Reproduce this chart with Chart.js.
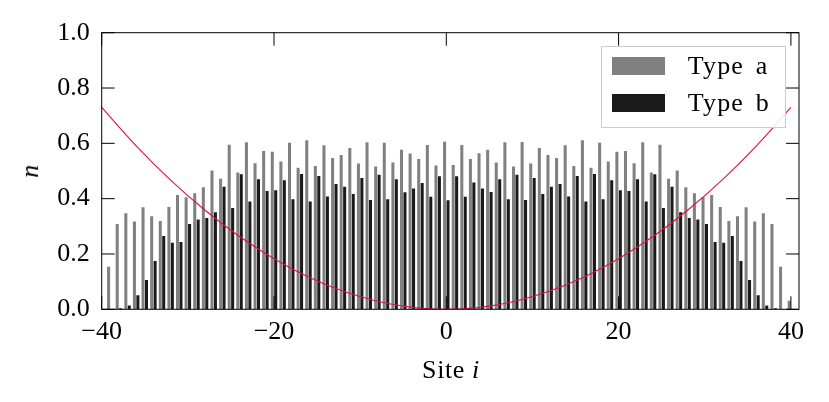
<!DOCTYPE html>
<html>
<head>
<meta charset="utf-8">
<script src="https://cdn.jsdelivr.net/npm/chart.js@4/dist/chart.umd.min.js"></script>
<style>
  html, body { margin: 0; padding: 0; background: #fff; }
  #wrap { position: relative; width: 829px; height: 402px; font-family: "Liberation Serif", serif; }
  #c { position: absolute; left: 0; top: 0; }
  .ttl { position: absolute; font-size: 26px; line-height: 30px; color: #000; white-space: nowrap; letter-spacing: 0.6px; }
  #legend { position: absolute; left: 600.7px; top: 46px; width: 185px; height: 82px; box-sizing: border-box;
            border: 1px solid #cccccc; background: rgba(255,255,255,0.88); }
  .lg-sw { position: absolute; left: 10px; width: 53px; height: 18px; }
  .lg-tx { position: absolute; left: 86px; font-size: 26px; line-height: 18px; color: #000; white-space: nowrap;
           letter-spacing: 1.2px; word-spacing: 4px; }
</style>
</head>
<body>
<div id="wrap">
  <canvas id="c" width="829" height="402"></canvas>
  <div class="ttl" id="xtitle" style="left:451px; top:355px; transform:translateX(-50%);">Site <i>i</i></div>
  <div class="ttl" id="ytitle" style="left:30px; top:171px; transform:translate(-50%,-50%) rotate(-90deg);"><i>n</i></div>
  <div id="legend"></div>
</div>
<script>
// ---- data ----
const sites = [-40,-39,-38,-37,-36,-35,-34,-33,-32,-31,-30,-29,-28,-27,-26,-25,-24,-23,-22,-21,
  -20,-19,-18,-17,-16,-15,-14,-13,-12,-11,-10,-9,-8,-7,-6,-5,-4,-3,-2,-1,
  0,1,2,3,4,5,6,7,8,9,10,11,12,13,14,15,16,17,18,19,
  20,21,22,23,24,25,26,27,28,29,30,31,32,33,34,35,36,37,38,39,40];

const typeA = [0.031,0.154,0.308,0.347,0.317,0.369,0.336,0.319,0.370,0.413,0.405,0.420,0.441,0.502,0.472,0.595,0.495,0.604,0.528,0.572,
  0.570,0.534,0.602,0.512,0.611,0.518,0.593,0.547,0.558,0.583,0.527,0.604,0.516,0.602,0.531,0.577,0.563,0.543,0.594,0.520,
  0.606,0.522,0.594,0.543,0.564,0.577,0.531,0.604,0.516,0.605,0.527,0.583,0.558,0.547,0.593,0.518,0.611,0.512,0.602,0.534,
  0.570,0.572,0.528,0.604,0.495,0.595,0.472,0.502,0.441,0.420,0.405,0.413,0.370,0.319,0.336,0.369,0.317,0.347,0.308,0.154,0.031];

const typeB = [0.000,0.001,0.004,0.014,0.051,0.106,0.175,0.265,0.241,0.243,0.308,0.325,0.330,0.351,0.443,0.366,0.488,0.390,0.470,0.428,
  0.430,0.467,0.398,0.489,0.390,0.482,0.408,0.453,0.443,0.417,0.475,0.395,0.486,0.398,0.470,0.423,0.437,0.457,0.407,0.481,
  0.394,0.481,0.407,0.458,0.437,0.424,0.470,0.398,0.486,0.395,0.475,0.417,0.443,0.453,0.408,0.482,0.390,0.489,0.398,0.467,
  0.430,0.428,0.470,0.390,0.488,0.366,0.443,0.351,0.330,0.325,0.308,0.243,0.241,0.265,0.175,0.106,0.051,0.014,0.004,0.001,0.000];

const curveX = [-40,-36,-32,-28,-24,-20,-16,-12,-8,-4,0,4,8,12,16,20,24,28,32,36,40];
const curveY = [0.730,0.591,0.467,0.358,0.263,0.183,0.117,0.066,0.029,0.007,0.000,0.007,0.029,0.066,0.117,0.183,0.263,0.358,0.467,0.591,0.730];

const seriesNames = ['Type a', 'Type b'];
const xTicks = [-40, -20, 0, 20, 40];
const xTickLabels = ['\u221240', '\u221220', '0', '20', '40'];
const yTicks = [0, 0.2, 0.4, 0.6, 0.8, 1.0];
const yTickLabels = ['0.0', '0.2', '0.4', '0.6', '0.8', '1.0'];

// ---- chart ----
const colA = '#808080', colB = '#1a1a1a', colCurve = '#dc143c';
Chart.defaults.font.family = '"Liberation Serif", serif';
Chart.defaults.font.size = 26;
Chart.defaults.color = '#000';

const TICK_LEN = 13;
const frameTicks = {
  id: 'frameTicks',
  afterDatasetsDraw(chart) {
    const { ctx, chartArea: a, scales: { x, y } } = chart;
    ctx.save();
    ctx.strokeStyle = '#000';
    ctx.lineWidth = 1;
    ctx.beginPath();
    for (const t of x.ticks) {
      const px = x.getPixelForValue(t.value);
      ctx.moveTo(px, a.bottom); ctx.lineTo(px, a.bottom - TICK_LEN);
      ctx.moveTo(px, a.top); ctx.lineTo(px, a.top + TICK_LEN);
    }
    for (const t of y.ticks) {
      const py = y.getPixelForValue(t.value);
      ctx.moveTo(a.left, py); ctx.lineTo(a.left + TICK_LEN, py);
      ctx.moveTo(a.right, py); ctx.lineTo(a.right - TICK_LEN, py);
    }
    ctx.stroke();
    ctx.strokeRect(a.left, a.top, a.right - a.left, a.bottom - a.top);
    ctx.restore();
  }
};

const chart = new Chart(document.getElementById('c'), {
  type: 'bar',
  data: {
    datasets: [
      {
        type: 'line',
        label: 'curve',
        data: curveX.map((v, i) => ({ x: v, y: curveY[i] })),
        borderColor: colCurve,
        borderWidth: 1.1,
        pointRadius: 0,
        cubicInterpolationMode: 'monotone',
        fill: false,
        order: 0
      },
      {
        label: seriesNames[0],
        data: sites.map((s, i) => ({ x: s, y: typeA[i] })),
        backgroundColor: colA,
        borderWidth: 0,
        categoryPercentage: 0.8,
        barPercentage: 0.88,
        order: 1
      },
      {
        label: seriesNames[1],
        data: sites.map((s, i) => ({ x: s, y: typeB[i] })),
        backgroundColor: colB,
        borderWidth: 0,
        categoryPercentage: 0.8,
        barPercentage: 0.88,
        order: 1
      }
    ]
  },
  options: {
    responsive: false,
    animation: false,
    events: [],
    layout: { padding: { left: 0, right: 30, top: 32.7, bottom: 0 } },
    plugins: { legend: { display: false }, tooltip: { enabled: false } },
    scales: {
      x: {
        type: 'linear',
        min: -40,
        max: 40.94,
        offset: false,
        grid: { display: false, offset: false, drawTicks: false },
        border: { display: false },
        afterBuildTicks: (s) => { s.ticks = xTicks.map(v => ({ value: v })); },
        afterFit: (s) => { s.height = 92.7; },
        ticks: {
          padding: 7,
          maxRotation: 0,
          autoSkip: false,
          callback: (v) => { const i = xTicks.indexOf(v); return i >= 0 ? xTickLabels[i] : ''; }
        }
      },
      y: {
        type: 'linear',
        min: 0,
        max: 1,
        grid: { display: false, drawTicks: false },
        border: { display: false },
        afterBuildTicks: (s) => { s.ticks = yTicks.map(v => ({ value: v })); },
        afterFit: (s) => { s.width = 101.7; },
        ticks: {
          padding: 12,
          callback: (v) => { const i = yTicks.findIndex(t => Math.abs(t - v) < 1e-9); return i >= 0 ? yTickLabels[i] : ''; }
        }
      }
    }
  },
  plugins: [frameTicks]
});

// ---- legend (HTML, built from the bar datasets) ----
const legend = document.getElementById('legend');
chart.data.datasets.filter(d => d.type !== 'line').forEach((d, i) => {
  const top = 10 + i * 37.3;
  const sw = document.createElement('div');
  sw.className = 'lg-sw';
  sw.style.top = top + 'px';
  sw.style.background = d.backgroundColor;
  const tx = document.createElement('div');
  tx.className = 'lg-tx';
  tx.style.top = top + 'px';
  tx.textContent = d.label;
  legend.appendChild(sw);
  legend.appendChild(tx);
});
</script>
</body>
</html>
